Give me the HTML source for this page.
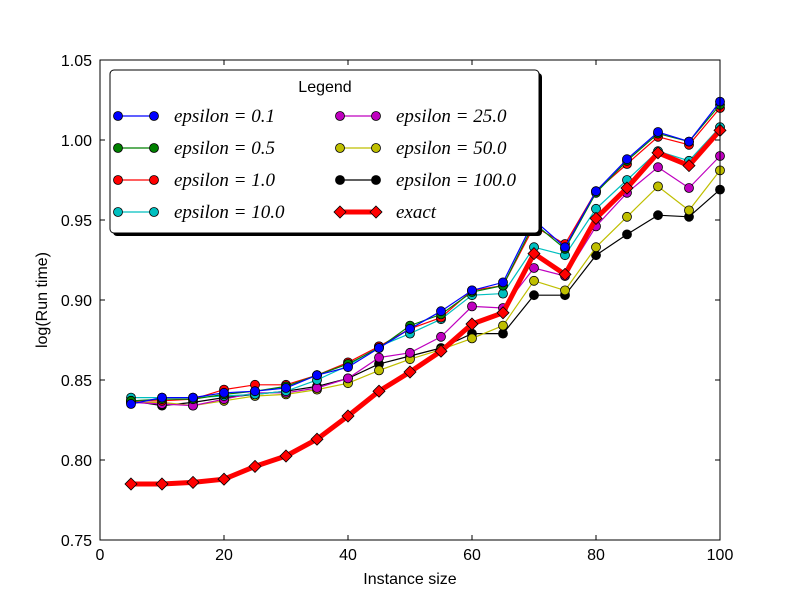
<!DOCTYPE html>
<html><head><meta charset="utf-8"><style>
body{margin:0;background:#fff}
svg text{font-family:"Liberation Sans",sans-serif}
svg text.math{font-family:"Liberation Serif",serif;font-style:italic}
</style></head><body>
<svg id="chart" width="800" height="600" xmlns="http://www.w3.org/2000/svg">
<rect width="800" height="600" fill="#fff"/>
<g id="series"></g>
<g id="axes"></g>
<g id="legend"></g>
</svg>
<script>
const xs=[5,10,15,20,25,30,35,40,45,50,55,60,65,70,75,80,85,90,95,100];
const eps01=[0.835,0.839,0.839,0.842,0.843,0.845,0.853,0.858,0.870,0.882,0.893,0.906,0.911,0.950,0.933,0.968,0.988,1.005,0.999,1.024];
const eps05=[0.837,0.838,0.838,0.841,0.843,0.846,0.853,0.860,0.870,0.884,0.891,0.905,0.909,0.948,0.932,0.967,0.987,1.004,0.999,1.022];
const eps1=[0.837,0.837,0.838,0.844,0.847,0.847,0.853,0.861,0.871,0.882,0.889,0.906,0.909,0.946,0.935,0.968,0.985,1.002,0.997,1.020];
const eps10=[0.839,0.839,0.839,0.840,0.841,0.843,0.850,0.859,0.871,0.879,0.888,0.903,0.904,0.933,0.928,0.957,0.975,0.993,0.987,1.008];
const eps25=[0.836,0.835,0.834,0.838,0.842,0.842,0.845,0.851,0.864,0.867,0.877,0.896,0.895,0.920,0.915,0.946,0.967,0.983,0.970,0.990];
const eps50=[0.836,0.836,0.834,0.837,0.840,0.841,0.844,0.848,0.856,0.863,0.869,0.876,0.884,0.912,0.906,0.933,0.952,0.971,0.956,0.981];
const eps100=[0.837,0.834,0.836,0.839,0.841,0.843,0.846,0.851,0.860,0.865,0.870,0.879,0.879,0.903,0.903,0.928,0.941,0.953,0.952,0.969];
const exact=[0.785,0.785,0.786,0.788,0.796,0.8025,0.813,0.8275,0.843,0.855,0.868,0.885,0.892,0.929,0.916,0.951,0.970,0.992,0.984,1.006];
const xTicks=[0,20,40,60,80,100];
const yTicks=[0.75,0.80,0.85,0.90,0.95,1.00,1.05];
const seriesNames=["epsilon=0.1","epsilon=0.5","epsilon=1.0","epsilon=10.0","epsilon=25.0","epsilon=50.0","epsilon=100.0","exact"];
const NS="http://www.w3.org/2000/svg";
const L=100,R=720,T=60,B=540;
const sx=v=>L+(v-0)/(100-0)*(R-L);
const sy=v=>B-(v-0.75)/(1.05-0.75)*(B-T);
function mk(t,a,p){const e=document.createElementNS(NS,t);for(const k in a)e.setAttribute(k,a[k]);(p||document.getElementById('chart')).appendChild(e);return e;}
const sg=document.getElementById('series');
const defs=[[eps01,'#0000ff'],[eps05,'#008000'],[eps1,'#ff0000'],[eps10,'#00bfbf'],[eps25,'#bf00bf'],[eps50,'#bfbf00'],[eps100,'#000000']];
const order=[6,5,4,3,2,1,0];
function drawSeries(vals,color,i){
  const g=mk('g',{},sg);
  
  
  const pl=mk('polyline',{points:vals.map((v,j)=>sx(xs[j])+','+sy(v)).join(' '),fill:'none',stroke:color,'stroke-width':1.2},g);
  
  
  vals.forEach((v,j)=>{const c=mk('circle',{cx:sx(xs[j]),cy:sy(v),r:4.5,fill:color,stroke:'#000','stroke-width':0.8},g);
    
    });
}
for(const i of order)drawSeries(defs[i][0],defs[i][1],i);
(function(){
  const g=mk('g',{},sg);
  
  
  const pl=mk('polyline',{points:exact.map((v,j)=>sx(xs[j])+','+sy(v)).join(' '),fill:'none',stroke:'#ff0000','stroke-width':5,'stroke-linejoin':'round'},g);
  
  
  exact.forEach((v,j)=>{const x=sx(xs[j]),y=sy(v);
    const d=mk('polygon',{points:`${x},${y-6} ${x+6},${y} ${x},${y+6} ${x-6},${y}`,fill:'#ff0000',stroke:'#000','stroke-width':0.8},g);
    
    });
})();
const ag=document.getElementById('axes');
const frame=mk('rect',{x:L,y:T,width:R-L,height:B-T,fill:'none',stroke:'#000','stroke-width':1},ag);


xTicks.forEach(t=>{const x=sx(t);
  mk('line',{x1:x,y1:B,x2:x,y2:B-5,stroke:'#000'},ag);mk('line',{x1:x,y1:T,x2:x,y2:T+5,stroke:'#000'},ag);
  const tx=mk('text',{x:x,y:B+20,'text-anchor':'middle','font-size':16},ag);tx.textContent=t;
  
  });
yTicks.forEach(t=>{const y=sy(t);
  mk('line',{x1:L,y1:y,x2:L+5,y2:y,stroke:'#000'},ag);mk('line',{x1:R,y1:y,x2:R-5,y2:y,stroke:'#000'},ag);
  const tx=mk('text',{x:L-8,y:y+6,'text-anchor':'end','font-size':16},ag);tx.textContent=t.toFixed(2);
  
  });
const xt=mk('text',{x:410,y:584,'text-anchor':'middle','font-size':16},ag);xt.textContent='Instance size';


const yt=mk('text',{x:47,y:300,'text-anchor':'middle','font-size':16,transform:'rotate(-90 47 300)'},ag);yt.textContent='log(Run time)';


const lg=document.getElementById('legend');


mk('rect',{x:113,y:73,width:429,height:163,rx:4,fill:'#000'},lg);
mk('rect',{x:110,y:70,width:429,height:163,rx:4,fill:'#fff',stroke:'#000','stroke-width':1},lg);
const lt=mk('text',{x:325,y:92,'text-anchor':'middle','font-size':16},lg);lt.textContent='Legend';


const allC=defs.map(d=>d[1]).concat(['#ff0000']);
const labels=["epsilon = 0.1","epsilon = 0.5","epsilon = 1.0","epsilon = 10.0","epsilon = 25.0","epsilon = 50.0","epsilon = 100.0","exact"];
labels.forEach((lab,i)=>{
  const col=i<4?0:1,row=i%4;const x0=col?340:118,y=116+row*32;
  const e=mk('g',{},lg);
  
  
  if(i<7){mk('line',{x1:x0,y1:y,x2:x0+36,y2:y,stroke:allC[i],'stroke-width':1.2},e);
    [x0,x0+36].forEach(cx=>mk('circle',{cx:cx,cy:y,r:4.5,fill:allC[i],stroke:'#000','stroke-width':0.8},e));}
  else{mk('line',{x1:x0,y1:y,x2:x0+36,y2:y,stroke:'#ff0000','stroke-width':5},e);
    [x0,x0+36].forEach(cx=>mk('polygon',{points:`${cx},${y-6} ${cx+6},${y} ${cx},${y+6} ${cx-6},${y}`,fill:'#ff0000',stroke:'#000','stroke-width':0.8},e));}
  const t=mk('text',{x:x0+56,y:y+6,'font-size':19,'class':'math'},e);
  t.textContent=lab;
});
</script>
</body></html>
